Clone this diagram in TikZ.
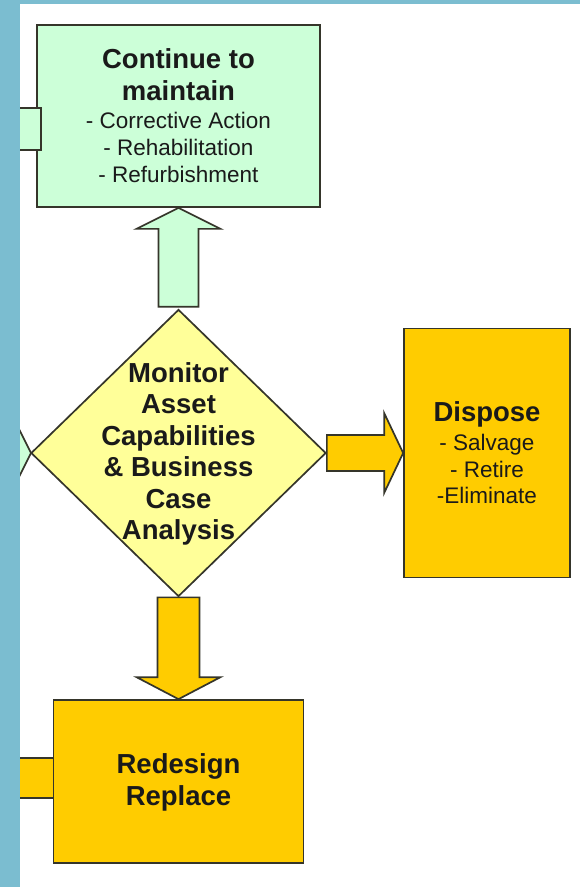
\documentclass[tikz,border=0pt]{standalone}
\usepackage{fontspec}
\setmainfont{Liberation Sans}
\usetikzlibrary{shapes.geometric,calc}
\definecolor{strip}{HTML}{7BBDD0}
\definecolor{mint}{HTML}{CCFFD8}
\definecolor{lemon}{HTML}{FFFF99}
\definecolor{gold}{HTML}{FFCC00}
\definecolor{edge}{HTML}{35352A}
\definecolor{ink}{HTML}{1A1A1A}
\tikzset{
  bx/.style={draw=edge, line width=1.7pt, line join=miter},
  boxnode/.style={bx, rectangle, inner sep=0pt},
  ttl/.style={anchor=base, inner sep=0pt, text=ink, font=\fontsize{27.5}{32}\selectfont\bfseries},
  itm/.style={anchor=base, inner sep=0pt, text=ink, font=\fontsize{22.5}{27}\selectfont},
}
\begin{document}
\begin{tikzpicture}[x=1pt,y=-1pt]
\useasboundingbox (0,0) rectangle (580,887);
\fill[white] (0,0) rectangle (580,887);

% boxes
\node (green) [boxnode, fill=mint, minimum width=283pt, minimum height=182pt] at (178.5,116) {};
\node (disp) [boxnode, fill=gold, minimum width=166pt, minimum height=249pt] at (487,453) {};
% left stubs
\fill[mint] (10,108) rectangle (41,150);
\draw[bx] (10,108) -- (41,108) -- (41,150) -- (10,150);
\fill[gold] (10,758) rectangle (54,798);
\draw[bx] (10,758) -- (54,758) -- (54,798) -- (10,798);
\node (red) [boxnode, fill=gold, minimum width=250pt, minimum height=163pt] at (178.5,781.5) {};

% green arrow tip entering diamond from left
\coordinate (ltip) at (31,453);
\fill[mint] (5,401) -- (ltip) -- (5,505) -- cycle;
\draw[bx] (5,401) -- (ltip) -- (5,505);

% diamond
\node (dia) [bx, diamond, fill=lemon, minimum width=295pt, minimum height=287pt, inner sep=0pt] at (178.5,453) {};

% up arrow (diamond -> continue to maintain)
\draw[bx, fill=mint] ($(dia.north)+(-20,-2)$) -- ($(green.south)+(-20,21)$) -- ($(green.south)+(-42,21)$) -- (green.south)
  -- ($(green.south)+(42,21)$) -- ($(green.south)+(20,21)$) -- ($(dia.north)+(20,-2)$) -- cycle;
% right arrow (diamond -> dispose)
\draw[bx, fill=gold] ($(dia.east)+(0,-18)$) -- ($(disp.west)+(-19,-18)$) -- ($(disp.west)+(-19,-40)$) -- (disp.west)
  -- ($(disp.west)+(-19,40)$) -- ($(disp.west)+(-19,18)$) -- ($(dia.east)+(0,18)$) -- cycle;
% down arrow (diamond -> redesign)
\draw[bx, fill=gold] ($(dia.south)+(-21,0)$) -- ($(red.north)+(-21,-22)$) -- ($(red.north)+(-42,-22)$) -- (red.north)
  -- ($(red.north)+(42,-22)$) -- ($(red.north)+(21,-22)$) -- ($(dia.south)+(21,0)$) -- cycle;

% texts
\node (g1) [ttl] at (178.5,68) {Continue to};
\node (g2) [ttl] at (178.5,100) {maintain};
\node (g3) [itm] at (178.5,128) {- Corrective Action};
\node (g4) [itm] at (178.5,155) {- Rehabilitation};
\node (g5) [itm] at (178.5,182) {- Refurbishment};

\node (d1) [ttl] at (178.5,382) {Monitor};
\node (d2) [ttl] at (178.5,413.5) {Asset};
\node (d3) [ttl] at (178.5,445) {Capabilities};
\node (d4) [ttl] at (178.5,476.5) {\& Business};
\node (d5) [ttl] at (178.5,508) {Case};
\node (d6) [ttl] at (178.5,539.5) {Analysis};

\node (p1) [ttl] at (487,421) {Dispose};
\node (p2) [itm] at (487,450) {- Salvage};
\node (p3) [itm] at (487,477) {- Retire};
\node (p4) [itm] at (487,503) {-Eliminate};

\node (r1) [ttl] at (178.5,773) {Redesign};
\node (r2) [ttl] at (178.5,805) {Replace};

% blue frame strips
\fill[strip] (0,0) rectangle (20,887);
\fill[strip] (0,0) rectangle (580,4);
\end{tikzpicture}
\end{document}
